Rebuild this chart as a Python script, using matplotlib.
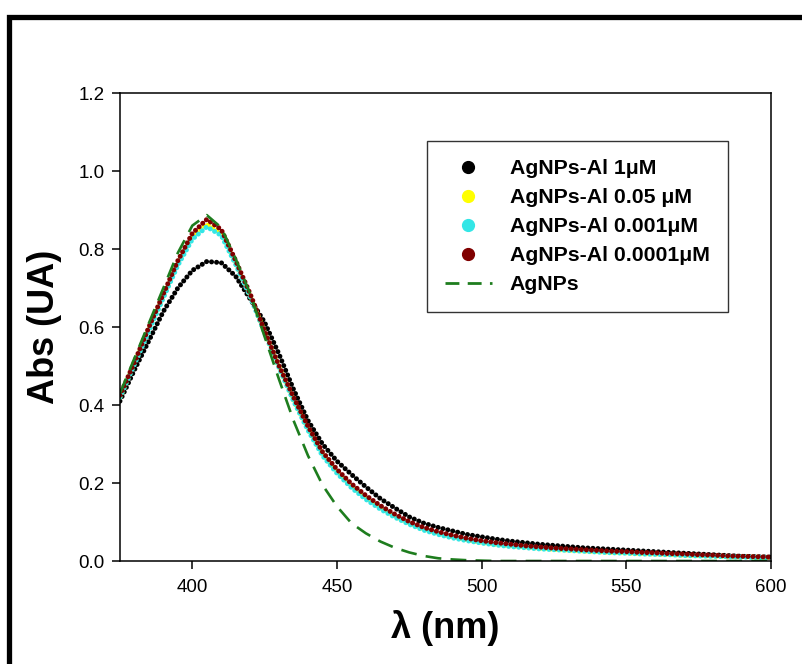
import matplotlib
matplotlib.use("Agg")
import matplotlib.pyplot as plt
from matplotlib.lines import Line2D
from matplotlib.patches import Rectangle

plt.rcParams['font.family'] = ['Liberation Sans', 'DejaVu Sans']

# wavelength grid (nm)
wl = [375, 380, 385, 390, 395, 400, 405, 410, 415, 420, 425, 430, 435, 440, 445,
      450, 455, 460, 465, 470, 475, 480, 485, 490, 495, 500, 505, 510, 515, 520,
      525, 530, 535, 540, 545, 550, 555, 560, 565, 570, 575, 580, 585, 590, 595, 600]

abs_1uM = [0.41, 0.49, 0.565, 0.64, 0.70, 0.745, 0.768, 0.765, 0.73, 0.672, 0.612, 0.53,
           0.44, 0.36, 0.30, 0.256, 0.222, 0.19, 0.16, 0.136, 0.113, 0.097, 0.086, 0.077,
           0.068, 0.062, 0.056, 0.051, 0.047, 0.043, 0.040, 0.037, 0.034, 0.032, 0.030,
           0.028, 0.026, 0.024, 0.022, 0.020, 0.018, 0.016, 0.014, 0.012, 0.011, 0.010]

abs_005uM = [0.42, 0.507, 0.593, 0.678, 0.762, 0.83, 0.864, 0.84, 0.763, 0.68, 0.587, 0.497,
             0.412, 0.338, 0.274, 0.229, 0.192, 0.162, 0.137, 0.115, 0.097, 0.082, 0.071,
             0.062, 0.054, 0.048, 0.043, 0.039, 0.036, 0.033, 0.030, 0.028, 0.026, 0.024,
             0.022, 0.021, 0.019, 0.018, 0.017, 0.015, 0.014, 0.013, 0.012, 0.011, 0.010, 0.009]

abs_0001uM = [0.42, 0.505, 0.59, 0.675, 0.758, 0.825, 0.857, 0.835, 0.76, 0.678, 0.585, 0.495,
              0.41, 0.335, 0.27, 0.225, 0.188, 0.158, 0.133, 0.112, 0.094, 0.079, 0.068,
              0.059, 0.052, 0.046, 0.041, 0.037, 0.034, 0.031, 0.029, 0.027, 0.025, 0.023,
              0.021, 0.020, 0.018, 0.017, 0.016, 0.014, 0.013, 0.012, 0.011, 0.010, 0.009, 0.008]

abs_00001uM = [0.425, 0.51, 0.60, 0.685, 0.77, 0.84, 0.876, 0.85, 0.77, 0.685, 0.59, 0.50,
               0.42, 0.345, 0.28, 0.235, 0.198, 0.168, 0.142, 0.12, 0.101, 0.086, 0.075,
               0.066, 0.058, 0.052, 0.047, 0.043, 0.039, 0.036, 0.033, 0.031, 0.029, 0.027,
               0.025, 0.024, 0.022, 0.021, 0.019, 0.018, 0.016, 0.015, 0.013, 0.012, 0.011, 0.010]

abs_agnps = [0.43, 0.52, 0.61, 0.70, 0.79, 0.86, 0.887, 0.855, 0.775, 0.685, 0.575, 0.465,
             0.36, 0.27, 0.195, 0.14, 0.097, 0.071, 0.05, 0.034, 0.022, 0.013, 0.007,
             0.004, 0.002, 0.001, 0.0, 0.0, 0.0, 0.0, 0.0, 0.0, 0.0, 0.0, 0.0, 0.0, 0.0,
             0.0, 0.0, 0.0, 0.0, 0.0, 0.0, 0.0, 0.0, 0.0]

labels = ['AgNPs-Al 1μM', 'AgNPs-Al 0.05 μM', 'AgNPs-Al 0.001μM', 'AgNPs-Al 0.0001μM', 'AgNPs']
dot_series = [abs_1uM, abs_005uM, abs_0001uM, abs_00001uM]
dot_colors = ['black', '#ffff00', '#33e6e6', '#800000']
green = '#1e7d1e'

fig = plt.figure(figsize=(8.03, 6.64), dpi=100)
ax = fig.add_axes([0.1494, 0.1551, 0.8107, 0.7048])

for ys, c in zip(dot_series, dot_colors):
    ax.plot(wl, ys, color=c, lw=3.6, linestyle=(0, (0.01, 1.0)),
            dash_capstyle='round', solid_capstyle='round')
ax.plot(wl, abs_agnps, color=green, lw=1.9, dashes=(6, 3.5))

ax.set_xlim(375, 600)
ax.set_ylim(0, 1.2)
ax.set_xticks([400, 450, 500, 550, 600])
ax.set_yticks([0.0, 0.2, 0.4, 0.6, 0.8, 1.0, 1.2])
ax.set_yticklabels(['0.0', '0.2', '0.4', '0.6', '0.8', '1.0', '1.2'])
ax.tick_params(direction='out', length=6, width=1.1, labelsize=13.5)
ax.tick_params(axis='x', pad=7)
ax.tick_params(axis='y', pad=5)
for s in ax.spines.values():
    s.set_linewidth(1.1)

ax.set_xlabel('λ (nm)', fontsize=26, fontweight='bold', labelpad=10)
ax.set_ylabel('Abs (UA)', fontsize=26, fontweight='bold', labelpad=12)

handles = [Line2D([], [], marker='o', linestyle='none', markersize=8.5,
                  color=c, markeredgecolor=c) for c in dot_colors]
handles.append(Line2D([], [], color=green, lw=2.0, dashes=(5, 3)))
leg = ax.legend(handles, labels, loc='upper left', bbox_to_anchor=(0.4716, 0.897),
                prop={'weight': 'bold', 'size': 15.3},
                frameon=True, fancybox=False, shadow=False,
                borderpad=0.85, labelspacing=0.47, handlelength=2.2,
                handletextpad=0.85, borderaxespad=0)
leg.get_frame().set_edgecolor('black')
leg.get_frame().set_linewidth(1.0)

# thick outer frame around the figure
fig.add_artist(Rectangle((9.5 / 803, -0.1), 1.2, 1.1 - 17.5 / 664,
                         transform=fig.transFigure, fill=False,
                         edgecolor='black', lw=3.8, clip_on=False))

fig.savefig('out.png', dpi=100)
